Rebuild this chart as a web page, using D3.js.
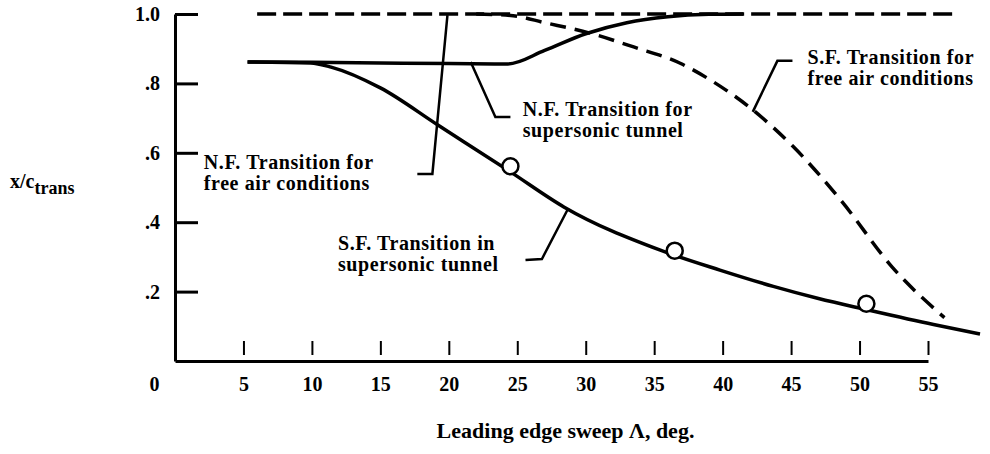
<!DOCTYPE html>
<html>
<head>
<meta charset="utf-8">
<script src="https://cdn.jsdelivr.net/npm/d3@7"></script>
<style>
  body { margin: 0; background: #fff; }
  svg { display: block; }
  text { font-family: "Liberation Serif", "Times New Roman", serif; font-weight: bold; fill: #000; }
</style>
</head>
<body>
<svg id="chart" width="990" height="454"></svg>
<script>
// ---- Data ----
const xTicks = [0, 5, 10, 15, 20, 25, 30, 35, 40, 45, 50, 55];
const yTicks = [0.2, 0.4, 0.6, 0.8, 1.0];

// N.F. transition for free air conditions (dashed, at the top)
const nfFreeSweep = [6, 56.8];
const nfFreeX     = [1.0, 1.0];

// N.F. transition for supersonic tunnel (solid)
const nfTunSweep = [5.3, 10, 15, 20, 24.3, 27, 30, 33, 36, 39, 41.5];
const nfTunX     = [0.862, 0.861, 0.859, 0.857, 0.856, 0.895, 0.943, 0.975, 0.992, 0.999, 1.0];

// S.F. transition for free air conditions (dashed)
const sfFreeSweep = [22, 24.7, 27, 30.3, 33.5, 36.9, 39.3, 42, 45.1, 48.7, 52.4, 56.2];
const sfFreeX     = [1.0, 0.995, 0.975, 0.945, 0.905, 0.858, 0.805, 0.73, 0.62, 0.46, 0.27, 0.125];

// S.F. transition in supersonic tunnel (solid)
const sfTunSweep = [5.3, 9.9, 11.4, 15, 19.2, 24.5, 28.4, 35.4, 39.8, 43.7, 47, 50.5, 55.4, 58.8];
const sfTunX     = [0.862, 0.859, 0.847, 0.787, 0.68, 0.545, 0.444, 0.32, 0.262, 0.215, 0.18, 0.148, 0.105, 0.078];

// Test points (open circles)
const ptSweep = [24.5, 36.5, 50.5];
const ptX     = [0.561, 0.318, 0.165];

// Annotations: text lines + leader polyline (data units)
const labels = [
  { lines: ["N.F. Transition for", "free air conditions"], at: [2.1, 0.552],
    leader: [[17.7, 0.539], [18.8, 0.539], [19.9, 0.997]] },
  { lines: ["N.F. Transition for", "supersonic tunnel"], at: [25.4, 0.707],
    leader: [[24.5, 0.703], [23.4, 0.703], [21.6, 0.862]] },
  { lines: ["S.F. Transition for", "free air conditions"], at: [46.2, 0.855],
    leader: [[45.1, 0.865], [44.0, 0.865], [42.2, 0.718]] },
  { lines: ["S.F. Transition in", "supersonic tunnel"], at: [11.9, 0.32],
    leader: [[25.6, 0.291], [26.8, 0.294], [28.7, 0.438]] }
];

// ---- Chart ----
const svg = d3.select("#chart");
const x = d3.scaleLinear().domain([0, 55]).range([175, 928]);
const y = d3.scaleLinear().domain([0, 1]).range([361, 14]);

const zip = (a, b) => a.map((v, i) => [v, b[i]]);
const line = d3.line().x(d => x(d[0])).y(d => y(d[1])).curve(d3.curveMonotoneX);
const poly = d3.line().x(d => x(d[0])).y(d => y(d[1]));

// Y axis
const yAxis = d3.axisLeft(y).tickValues(yTicks).tickSizeInner(-23).tickSizeOuter(0).tickPadding(15)
  .tickFormat(d => d === 1 ? "1.0" : d3.format(".1f")(d).replace(/^0/, ""));
const gy = svg.append("g").attr("transform", `translate(${x(0)},0)`).call(yAxis);
gy.select(".domain").attr("stroke", "#000").attr("stroke-width", 3);
gy.selectAll(".tick line").attr("stroke", "#000").attr("stroke-width", 3);
gy.selectAll(".tick text").style("font-size", "20px").attr("font-family", null);

// X axis
const xAxis = d3.axisBottom(x).tickValues(xTicks).tickSizeInner(0).tickSizeOuter(0).tickPadding(16)
  .tickFormat(d3.format("d"));
const gx = svg.append("g").attr("transform", `translate(0,${y(0)})`).call(xAxis);
gx.select(".domain").attr("stroke", "#000").attr("stroke-width", 3);
gx.selectAll(".tick line")
  .attr("stroke", d => d === 0 ? "none" : "#000")
  .attr("stroke-width", 2).attr("y1", -6).attr("y2", -20);
gx.selectAll(".tick text").style("font-size", "20px").attr("font-family", null)
  .attr("dx", d => d === 0 ? -21 : 0);

// Curves
svg.append("path").datum(zip(nfFreeSweep, nfFreeX)).attr("d", line)
  .attr("fill", "none").attr("stroke", "#000").attr("stroke-width", 3.5).attr("stroke-dasharray", "19,7");
svg.append("path").datum(zip(sfFreeSweep, sfFreeX)).attr("d", line)
  .attr("fill", "none").attr("stroke", "#000").attr("stroke-width", 3.5).attr("stroke-dasharray", "16,9");
svg.append("path").datum(zip(nfTunSweep, nfTunX)).attr("d", line)
  .attr("fill", "none").attr("stroke", "#000").attr("stroke-width", 3.5);
svg.append("path").datum(zip(sfTunSweep, sfTunX)).attr("d", line)
  .attr("fill", "none").attr("stroke", "#000").attr("stroke-width", 3.5);

// Points
svg.selectAll("circle.pt").data(zip(ptSweep, ptX)).join("circle")
  .attr("class", "pt").attr("cx", d => x(d[0])).attr("cy", d => y(d[1])).attr("r", 8)
  .attr("fill", "#fff").attr("stroke", "#000").attr("stroke-width", 2.5);

// Annotations
labels.forEach(l => {
  svg.append("path").datum(l.leader).attr("d", poly)
    .attr("fill", "none").attr("stroke", "#000").attr("stroke-width", 2.5);
  l.lines.forEach((s, i) => {
    svg.append("text").attr("x", x(l.at[0])).attr("y", y(l.at[1]) + i * 21)
      .style("font-size", "20px").style("letter-spacing", "0.6px").text(s);
  });
});

// Axis titles
svg.append("text").attr("x", (x(0) + x(55)) / 2 + 14).attr("y", 438).attr("text-anchor", "middle")
  .style("font-size", "22px").text("Leading edge sweep \u039B, deg.");
const yt = svg.append("text").attr("x", 10).attr("y", 188).style("font-size", "20px");
yt.append("tspan").text("x/c");
yt.append("tspan").attr("dy", 6).style("font-size", "18px").text("trans");
</script>
</body>
</html>
